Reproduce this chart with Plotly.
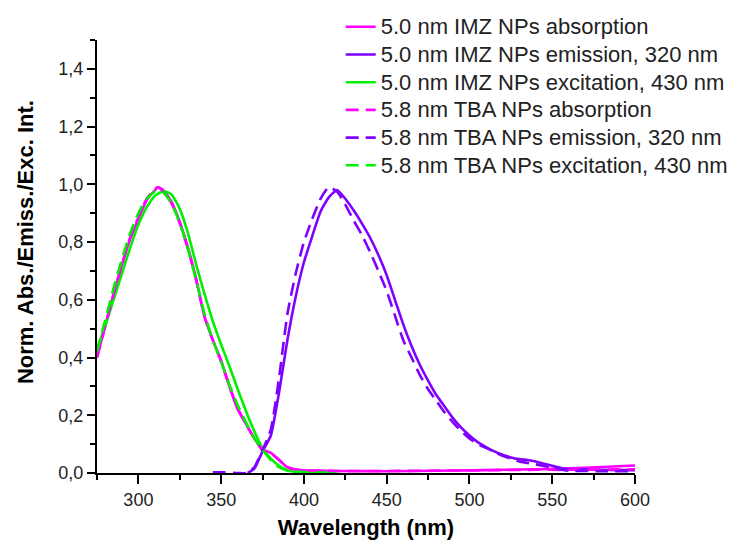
import plotly.graph_objects as go

# ---------------- data ----------------
abs_imz_x = [275, 280, 285, 290, 295, 300, 305, 310, 312, 315, 320, 325, 330, 335, 340, 345, 350, 355, 360, 365,
             370, 375, 380, 385, 390, 395, 400, 420, 450, 480, 500, 520, 540, 560, 580, 600]
abs_imz_y = [0.40, 0.51, 0.62, 0.72, 0.81, 0.88, 0.945, 0.98, 0.99, 0.98, 0.94, 0.87, 0.78, 0.67, 0.54, 0.46, 0.39,
             0.30, 0.22, 0.17, 0.12, 0.08, 0.07, 0.045, 0.02, 0.012, 0.009, 0.007, 0.006, 0.008, 0.009, 0.011, 0.013,
             0.016, 0.021, 0.026]

abs_tba_x = [275, 280, 285, 290, 295, 300, 305, 310, 312, 315, 320, 325, 330, 335, 340, 345, 350, 355, 360, 365,
             370, 375, 380, 385, 390, 395, 400, 420, 450, 480, 500, 520, 540, 560, 580, 600]
abs_tba_y = [0.40, 0.51, 0.62, 0.72, 0.815, 0.885, 0.95, 0.985, 0.99, 0.975, 0.935, 0.865, 0.775, 0.665, 0.54, 0.46,
             0.385, 0.30, 0.225, 0.17, 0.12, 0.08, 0.068, 0.045, 0.02, 0.012, 0.009, 0.007, 0.007, 0.008, 0.009, 0.01,
             0.011, 0.011, 0.012, 0.013]

exc_imz_x = [275, 280, 285, 290, 295, 300, 305, 310, 315, 320, 325, 330, 335, 340, 345, 350, 355, 360, 365, 370,
             375, 380, 385, 390, 395, 400, 410, 420]
exc_imz_y = [0.43, 0.51, 0.60, 0.69, 0.78, 0.86, 0.92, 0.96, 0.977, 0.965, 0.915, 0.83, 0.72, 0.62, 0.525, 0.445,
             0.37, 0.29, 0.215, 0.145, 0.085, 0.05, 0.025, 0.01, 0.004, 0.002, 0.001, 0.0]

exc_tba_x = [275, 280, 285, 290, 295, 300, 305, 310, 313, 315, 320, 325, 330, 335, 340, 345, 350, 355, 360, 365,
             370, 375, 380, 385, 390, 400, 420]
exc_tba_y = [0.42, 0.53, 0.64, 0.74, 0.83, 0.90, 0.95, 0.975, 0.978, 0.972, 0.935, 0.865, 0.775, 0.665, 0.55, 0.46,
             0.385, 0.305, 0.235, 0.175, 0.12, 0.08, 0.045, 0.02, 0.008, 0.003, 0.0]

em_imz_x = [366, 370, 375, 380, 385, 390, 395, 400, 405, 410, 415, 420, 425, 430, 435, 440, 445, 450,
            455, 460, 465, 470, 475, 480, 485, 490, 495, 500, 505, 510, 515, 520, 525, 530, 535, 540, 545, 550,
            555, 560, 570, 580, 590, 600]
em_imz_y = [0.0, 0.015, 0.075, 0.13, 0.28, 0.46, 0.61, 0.73, 0.82, 0.905, 0.955, 0.98, 0.95, 0.91, 0.865,
            0.815, 0.755, 0.685, 0.60, 0.515, 0.44, 0.375, 0.32, 0.27, 0.23, 0.19, 0.157, 0.13, 0.107, 0.09, 0.075,
            0.063, 0.054, 0.048, 0.045, 0.04, 0.032, 0.025, 0.018, 0.013, 0.012, 0.011, 0.01, 0.01]

em_tba_x = [345, 352, 360, 365, 370, 375, 380, 385, 390, 395, 400, 405, 410, 415, 420, 425, 430, 435, 440, 445,
            450, 455, 460, 465, 470, 475, 480, 485, 490, 495, 500, 505, 510, 515, 520, 525, 530, 535, 540, 545,
            550, 555, 560, 570, 580, 600]
em_tba_y = [0.002, 0.002, 0.0, 0.0, 0.02, 0.08, 0.15, 0.33, 0.55, 0.69, 0.80, 0.88, 0.95, 0.99, 0.975, 0.93, 0.875,
            0.825, 0.765, 0.70, 0.63, 0.545, 0.46, 0.40, 0.34, 0.29, 0.25, 0.21, 0.175, 0.145, 0.12, 0.10, 0.087,
            0.073, 0.06, 0.05, 0.04, 0.035, 0.03, 0.024, 0.018, 0.012, 0.008, 0.007, 0.006, 0.006]

names = ["5.0 nm IMZ NPs absorption", "5.0 nm IMZ NPs emission, 320 nm", "5.0 nm IMZ NPs excitation, 430 nm",
         "5.8 nm TBA NPs absorption", "5.8 nm TBA NPs emission, 320 nm", "5.8 nm TBA NPs excitation, 430 nm"]

x_ticks = [300, 350, 400, 450, 500, 550, 600]
y_ticks = [0.0, 0.2, 0.4, 0.6, 0.8, 1.0, 1.2, 1.4]

MAGENTA = "#FF00FF"
VIOLET = "#8000FF"
GREEN = "#00F000"

series = [
    (abs_imz_x, abs_imz_y, MAGENTA, "solid"),
    (em_imz_x, em_imz_y, VIOLET, "solid"),
    (exc_imz_x, exc_imz_y, GREEN, "solid"),
    (abs_tba_x, abs_tba_y, MAGENTA, "13px,7px"),
    (em_tba_x, em_tba_y, VIOLET, "13px,7px"),
    (exc_tba_x, exc_tba_y, GREEN, "13px,7px"),
]

fig = go.Figure()
for (xs, ys, col, dash), nm in zip(series, names):
    fig.add_trace(go.Scatter(
        x=xs, y=ys, mode="lines", name='<span style="font-size:22px">' + nm + '</span>',
        line=dict(color=col, width=2.6, dash=dash, shape="spline", smoothing=0.5),
    ))

FONT = "Liberation Sans, Arial, sans-serif"

fig.update_layout(
    width=741, height=540,
    margin=dict(l=97, r=106, t=40, b=67, autoexpand=False),
    paper_bgcolor="white", plot_bgcolor="white",
    separators=",.",
    font=dict(family=FONT, color="#222222", size=18),
    showlegend=True,
    legend=dict(x=0.453, y=1.074, xanchor="left", yanchor="top",
                font=dict(family=FONT, size=19, color="#222222"),
                bgcolor="rgba(0,0,0,0)", borderwidth=0, itemwidth=30),
    xaxis=dict(
        range=[275, 600], tickvals=x_ticks, ticks="outside", ticklen=9, tickwidth=2, tickcolor="black",
        showline=True, linecolor="black", linewidth=2, showgrid=False, zeroline=False, automargin=False,
        tickfont=dict(family=FONT, size=18, color="#222222"),
        minor=dict(dtick=25, tick0=275, ticks="outside", ticklen=5, tickwidth=2, tickcolor="black", showgrid=False),
        title=dict(text="<b>Wavelength (nm)</b>", font=dict(family=FONT, size=22, color="black"), standoff=12),
    ),
    yaxis=dict(
        range=[0, 1.5], tickvals=y_ticks, tickformat=".1f", ticks="outside", ticklen=8, tickwidth=2,
        tickcolor="black", showline=True, linecolor="black", linewidth=2, showgrid=False, zeroline=False,
        automargin=False,
        tickfont=dict(family=FONT, size=18, color="#222222"),
        minor=dict(dtick=0.1, tick0=0, ticks="outside", ticklen=5, tickwidth=2, tickcolor="black", showgrid=False),
    ),
    annotations=[dict(
        text="<b>Norm. Abs./Emiss./Exc. Int.</b>", textangle=-90, xref="paper", yref="paper",
        x=-0.134, y=0.533, xanchor="center", yanchor="middle", showarrow=False,
        font=dict(family=FONT, size=22, color="black"),
    )],
)

fig.write_html("out.html")
